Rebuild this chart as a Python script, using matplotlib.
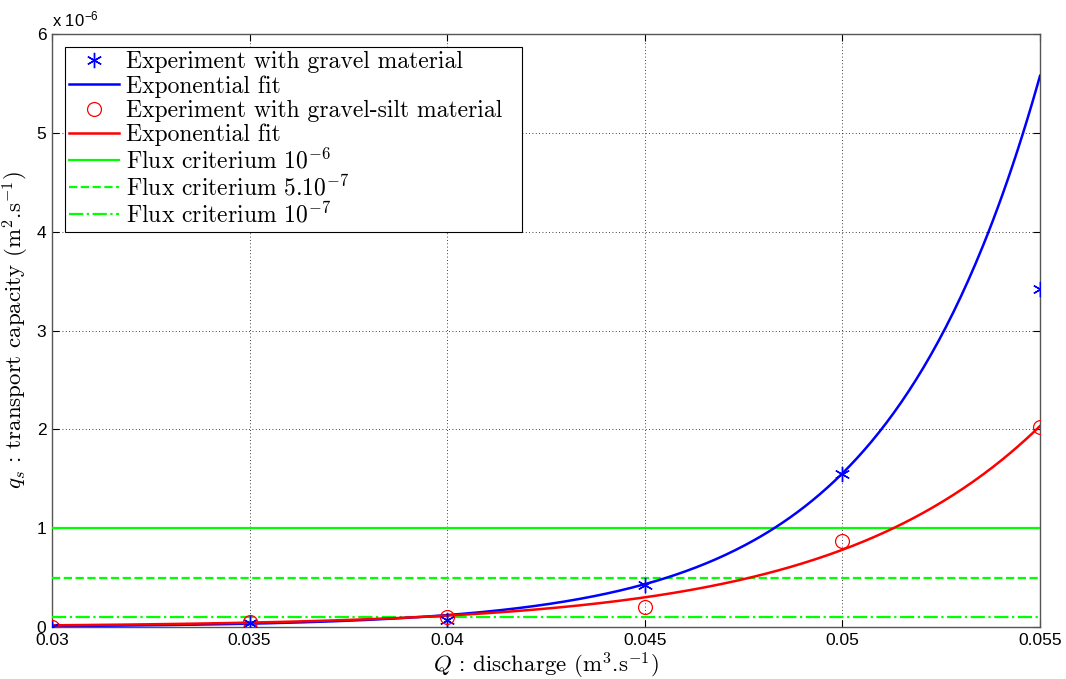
import numpy as np
import matplotlib
matplotlib.use("Agg")
import matplotlib.pyplot as plt
from matplotlib.ticker import FuncFormatter

plt.rcParams['mathtext.fontset'] = 'cm'
plt.rcParams['font.family'] = ['Liberation Sans', 'DejaVu Sans']
plt.rcParams['axes.unicode_minus'] = False
CM = ['cmr10', 'DejaVu Serif']

# ---- data ----
discharge = [0.03, 0.035, 0.04, 0.045, 0.05, 0.055]
gravel = [0.0, 0.04e-6, 0.07e-6, 0.43e-6, 1.55e-6, 3.42e-6]
gravel_silt = [0.0, 0.05e-6, 0.10e-6, 0.20e-6, 0.87e-6, 2.02e-6]

# exponential fits  y = a * exp(b * Q)
gravel_fit_a, gravel_fit_b = 4.40e-12, 255.5
silt_fit_a, silt_fit_b = 5.48e-11, 191.3

criteria = [1e-6, 5e-7, 1e-7]
criteria_labels = [r'Flux criterium 10$^{-6}$',
                   r'Flux criterium 5.10$^{-7}$',
                   r'Flux criterium 10$^{-7}$']
criteria_styles = ['-', '--', '-.']

xticks = [0.03, 0.035, 0.04, 0.045, 0.05, 0.055]
xtick_labels = ['0.03', '0.035', '0.04', '0.045', '0.05', '0.055']
yticks = [0, 1e-6, 2e-6, 3e-6, 4e-6, 5e-6, 6e-6]

fig = plt.figure(figsize=(10.66, 6.79), dpi=100)
ax = fig.add_axes([52/1066, 1 - 627/679, (1040-52)/1066, (627-34)/679])

q = np.linspace(discharge[0], discharge[-1], 400)

ax.plot(discharge, gravel, linestyle='none', marker=(6, 2, 0), markersize=11,
        markeredgewidth=1.0, color='blue',
        label='Experiment with gravel material', zorder=5)
ax.plot(q, gravel_fit_a * np.exp(gravel_fit_b * q), color='blue', lw=1.8,
        label='Exponential fit', zorder=4)
ax.plot(discharge, gravel_silt, linestyle='none', marker='o', markersize=10,
        markerfacecolor='none', markeredgecolor='red', markeredgewidth=0.9,
        label='Experiment with gravel-silt material  ', zorder=5)
ax.plot(q, silt_fit_a * np.exp(silt_fit_b * q), color='red', lw=1.8,
        label='Exponential fit', zorder=4)
for c, lab, ls in zip(criteria, criteria_labels, criteria_styles):
    ax.axhline(c, color=(0, 1, 0), lw=1.6, linestyle=ls, label=lab, zorder=3)

ax.set_xlim(0.03, 0.055)
ax.set_ylim(0, 6e-6)
ax.set_xticks(xticks)
ax.set_xticklabels(xtick_labels)
ax.set_yticks(yticks)
ax.yaxis.set_major_formatter(FuncFormatter(lambda v, p: f'{v*1e6:g}'))
ax.tick_params(direction='in', length=5, width=0.8, labelsize=12.5,
               top=True, right=True, colors='black', pad=4)
ax.grid(True, linestyle=(0, (1, 3)), color='black', lw=0.6)
for s in ax.spines.values():
    s.set_color('#555555')
    s.set_linewidth(1.0)

ax.text(0.0, 1.008, r'x 10$^{\mathregular{-6}}$', transform=ax.transAxes,
        fontsize=12, ha='left', va='bottom')

ax.set_xlabel(r'$Q$ : discharge (m$^3$.s$^{-1}$)', fontsize=16.5, labelpad=2,
              family=CM)
ax.set_ylabel(r'$q_s$ : transport capacity (m$^2$.s$^{-1}$)', fontsize=16.5,
              labelpad=4, family=CM)

leg = ax.legend(loc='upper left', frameon=True, fancybox=False,
                prop={'family': CM, 'size': 17},
                edgecolor='black', framealpha=1, borderaxespad=0.55,
                handlelength=2.1, handletextpad=0.3, labelspacing=0.08,
                borderpad=0.18)
leg.get_frame().set_linewidth(0.8)

fig.savefig('out.png', dpi=100)
